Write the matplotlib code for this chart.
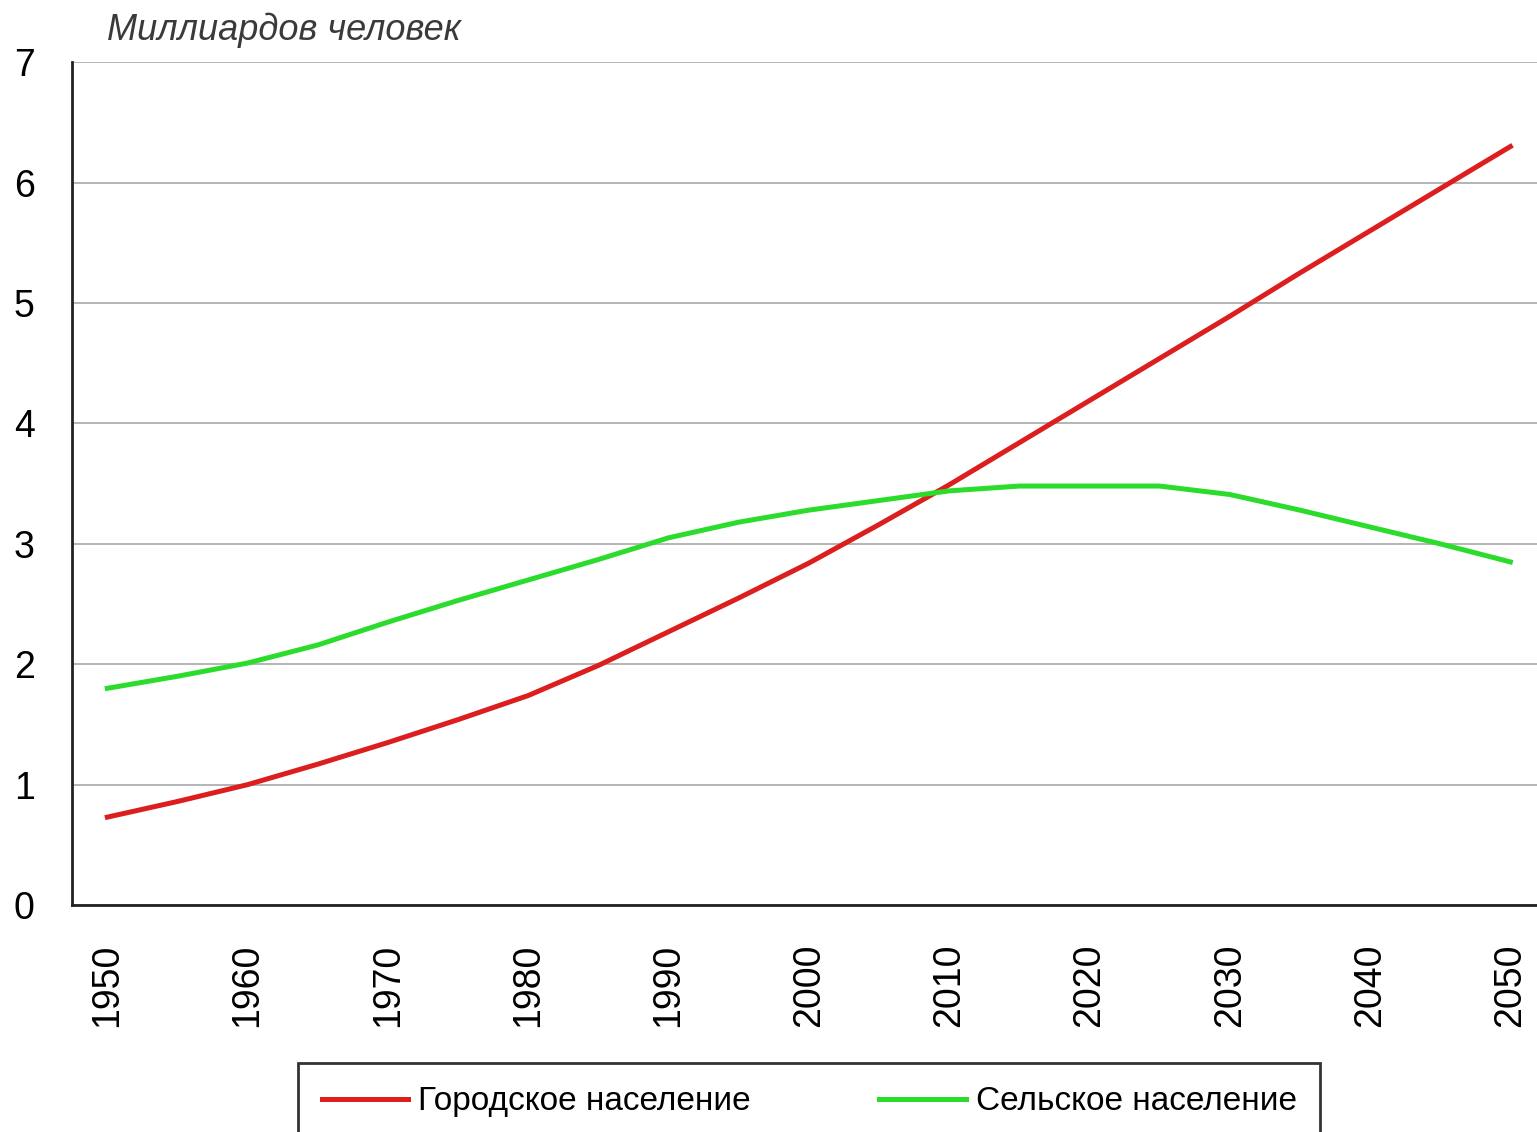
import matplotlib.pyplot as plt

years = [1950, 1955, 1960, 1965, 1970, 1975, 1980, 1985, 1990, 1995, 2000,
         2005, 2010, 2015, 2020, 2025, 2030, 2035, 2040, 2045, 2050]
urban = [0.73, 0.86, 1.00, 1.17, 1.35, 1.54, 1.74, 1.99, 2.27, 2.55, 2.84,
         3.16, 3.49, 3.84, 4.19, 4.54, 4.89, 5.25, 5.60, 5.95, 6.30]
rural = [1.80, 1.90, 2.01, 2.16, 2.35, 2.53, 2.70, 2.87, 3.05, 3.18, 3.28,
         3.36, 3.44, 3.48, 3.48, 3.48, 3.41, 3.28, 3.14, 3.00, 2.85]
xticks = list(range(1950, 2051, 10))
yticks = list(range(0, 8))

plt.rcParams["font.family"] = ["Liberation Sans", "DejaVu Sans"]

fig = plt.figure(figsize=(15.37, 11.32), dpi=100)
ax = fig.add_axes([0.047, 0.2005, 0.953, 0.7445])

ax.plot(years, urban, color="#dc1e1e", linewidth=3.6, label="Городское население")
ax.plot(years, rural, color="#2cdc2c", linewidth=3.6, label="Сельское население")

ax.set_xlim(1947.5, 2051.9)
ax.set_ylim(0, 7)
ax.set_xticks(xticks)
ax.set_yticks(yticks)
ax.set_xticklabels([str(x) for x in xticks], rotation=90, fontsize=27)
ax.set_yticklabels([str(y) for y in yticks], fontsize=27)
ax.tick_params(axis="x", length=0, pad=28)
ax.tick_params(axis="y", length=0, pad=27)

ax.grid(axis="y", color="#b4b4b4", linewidth=1.4)
ax.set_axisbelow(True)
for s in ["top", "right"]:
    ax.spines[s].set_visible(False)
ax.spines["left"].set_linewidth(2)
ax.spines["bottom"].set_linewidth(2)
ax.spines["left"].set_color("#222222")
ax.spines["bottom"].set_color("#222222")

fig.text(0.0696, 0.973, "Миллиардов человек", fontsize=26, style="italic",
         color="#3a3a3a", ha="left", va="center")

leg = fig.legend(loc="upper left", bbox_to_anchor=(0.194, -0.1, 0.665, 0.161),
                 mode="expand", ncol=2, fontsize=24, frameon=True,
                 fancybox=False, edgecolor="black", handlelength=2.6,
                 handletextpad=0.3, borderpad=0.7, borderaxespad=0)
leg.get_frame().set_linewidth(2)

fig.savefig("out.png", dpi=100)
